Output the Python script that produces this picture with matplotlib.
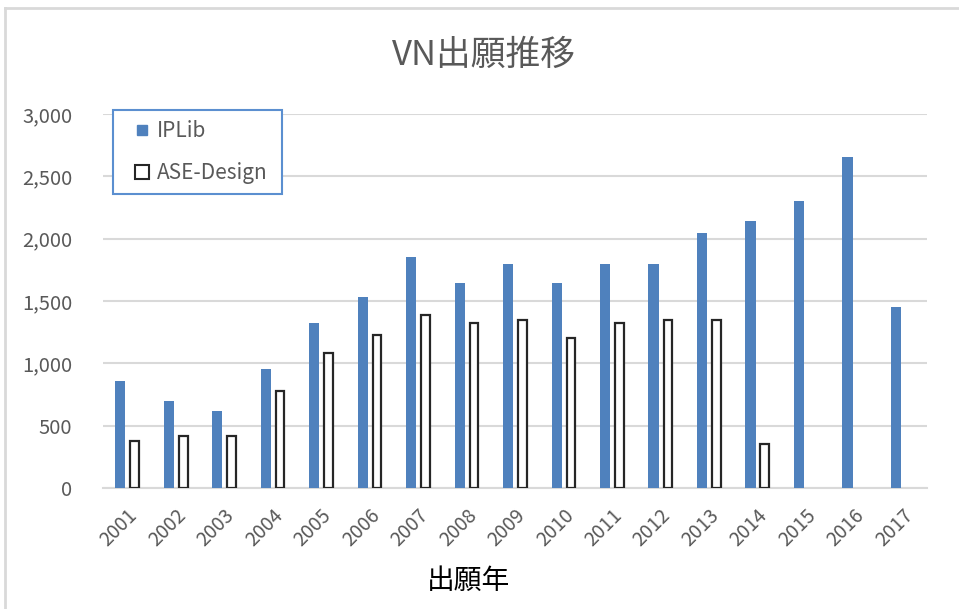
import numpy as np
import matplotlib
matplotlib.use('Agg')
import matplotlib.pyplot as plt
from matplotlib.lines import Line2D
from matplotlib.patches import Rectangle
from matplotlib.ticker import FuncFormatter

plt.rcParams['font.family'] = ['Noto Sans CJK JP', 'DejaVu Sans']

years = ['2001', '2002', '2003', '2004', '2005', '2006', '2007', '2008', '2009',
         '2010', '2011', '2012', '2013', '2014', '2015', '2016', '2017']
iplib = [860, 700, 620, 955, 1325, 1530, 1855, 1645, 1800,
         1645, 1800, 1800, 2045, 2140, 2305, 2655, 1450]
ase_design = [375, 420, 420, 775, 1080, 1225, 1385, 1325, 1350,
              1205, 1320, 1350, 1350, 355, 0, 0, 0]

W, H = 959, 609
fig = plt.figure(figsize=(W / 100, H / 100), dpi=100)
ax = fig.add_axes([102.7 / W, 1 - 488 / H, (926.7 - 102.7) / W, (488 - 114) / H])

x = np.arange(len(years))
bw = 0.21
ax.bar(x - 0.135, iplib, bw, color='#4F81BD', label='IPLib', zorder=3)
# no ASE-Design data after 2014
ase_x = x[:14]
ax.bar(ase_x + 0.16, ase_design[:14], bw - 0.03, color='white', edgecolor='#262626',
       linewidth=1.6, label='ASE-Design', zorder=3)

ax.set_xlim(-0.5, len(years) - 0.5)
ax.set_ylim(0, 3000)
ax.set_yticks(range(0, 3001, 500))
ax.yaxis.set_major_formatter(FuncFormatter(lambda v, p: f'{int(v):,}'))
ax.set_xticks(x)
ax.set_xticklabels(years, rotation=45, ha='right', rotation_mode='anchor')
ax.tick_params(axis='both', length=0, colors='#595959')
ax.tick_params(axis='y', labelsize=14.5, pad=22)
ax.tick_params(axis='x', labelsize=14, pad=12)
ax.grid(axis='y', color='#d9d9d9', linewidth=1.5, zorder=0)
for s in ['top', 'right', 'left']:
    ax.spines[s].set_visible(False)
ax.spines['bottom'].set_color('#d9d9d9')
ax.spines['bottom'].set_linewidth(1.5)

fig.text(484 / W, 1 - 55 / H, 'VN出願推移', ha='center', va='center', fontsize=25, color='#595959')
fig.text(469 / W, 1 - 581 / H, '出願年', ha='center', va='center', fontsize=20, color='#000000')

# legend box
fig.add_artist(Rectangle((112.7 / W, 1 - 194 / H), (281.7 - 112.7) / W, (194 - 110) / H,
                         transform=fig.transFigure, facecolor='white', edgecolor='#5B8FD0',
                         linewidth=1.5, zorder=4))
handles = [
    Line2D([0], [0], marker='s', linestyle='none', markersize=7.2, markerfacecolor='#4F81BD',
           markeredgecolor='#4F81BD'),
    Line2D([0], [0], marker='s', linestyle='none', markersize=9.5, markerfacecolor='white',
           markeredgecolor='#262626', markeredgewidth=1.5),
]
leg = fig.legend(handles, ['IPLib', 'ASE-Design'], loc='upper left',
                 bbox_to_anchor=(131.6 / W, 1 - 120 / H), fontsize=15, frameon=False,
                 labelspacing=0.98, handletextpad=0.22, borderpad=0, borderaxespad=0,
                 handlelength=1.0)
leg.set_zorder(5)
for t in leg.get_texts():
    t.set_color('#595959')

# chart border (top and left visible)
fig.add_artist(Line2D([4.5 / W, 4.5 / W], [0, 1 - 8 / H], color='#d9d9d9', linewidth=2))
fig.add_artist(Line2D([4.5 / W, 1], [1 - 8 / H, 1 - 8 / H], color='#d9d9d9', linewidth=2))

fig.savefig('out.png', dpi=100)
